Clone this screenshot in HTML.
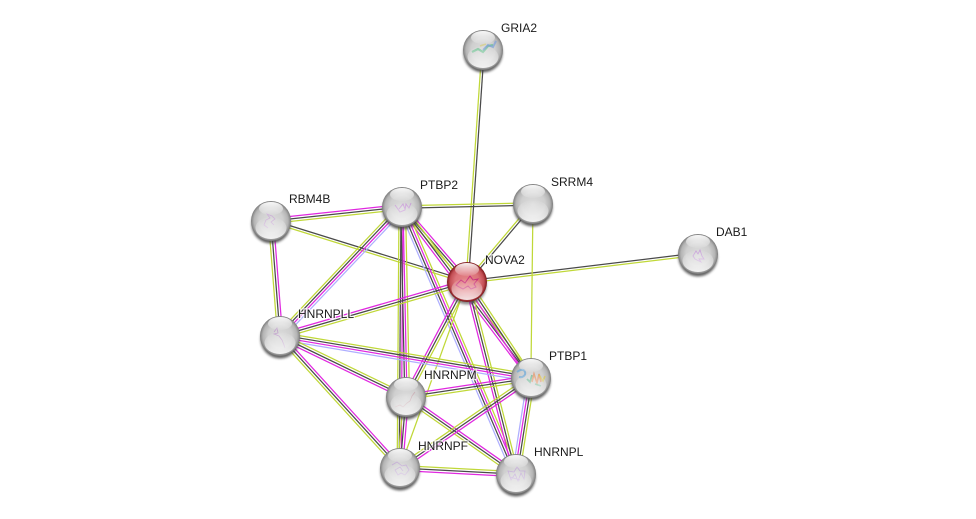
<!DOCTYPE html>
<html><head><meta charset="utf-8">
<style>
html,body{margin:0;padding:0;background:#fff;width:976px;height:519px;overflow:hidden}
svg{display:block}
path.m,path.k,path.g,path.b{fill:none;stroke-width:1.25}
.m{stroke:#e028e0}.k{stroke:#4a4a4a}.g{stroke:#c0d838}.b{stroke:#aeaeff}
.p{opacity:.7}
text{font-family:"Liberation Sans",sans-serif;font-size:12px;fill:#1a1a1a;paint-order:stroke;stroke:#fff;stroke-opacity:.75;stroke-width:2.5px}
</style></head><body>
<svg width="976" height="519" viewBox="0 0 976 519" xmlns="http://www.w3.org/2000/svg">
<defs>
<radialGradient id="s" cx="50%" cy="50%" r="50%">
<stop offset="0" stop-color="#dcdcdc"/><stop offset=".6" stop-color="#cfcfcf"/><stop offset=".85" stop-color="#b4b4b4"/><stop offset=".96" stop-color="#8c8c8c"/><stop offset="1" stop-color="#767676"/>
</radialGradient>
<radialGradient id="r" cx="50%" cy="50%" r="50%">
<stop offset="0" stop-color="#e58488"/><stop offset=".6" stop-color="#dc747a"/><stop offset=".85" stop-color="#c24e54"/><stop offset=".96" stop-color="#8f2428"/><stop offset="1" stop-color="#781a1e"/>
</radialGradient>
<linearGradient id="h" x1="0" y1="0" x2="0" y2="1">
<stop offset="0" stop-color="#fff" stop-opacity=".95"/><stop offset="1" stop-color="#fff" stop-opacity=".08"/>
</linearGradient>
<linearGradient id="l" x1="0" y1="0" x2="0" y2="1">
<stop offset="0" stop-color="#fff" stop-opacity="0"/><stop offset="1" stop-color="#fff" stop-opacity=".85"/>
</linearGradient>
<filter id="b" x="-30%" y="-30%" width="160%" height="160%"><feGaussianBlur stdDeviation="1.4"/></filter>
<g id="gl">
<ellipse cx="0" cy="-12.5" rx="12" ry="6.5" fill="url(#h)"/>
<ellipse cx="0" cy="7" rx="15.5" ry="11" fill="url(#l)"/>
</g>
<g id="sh"><circle cy="3" r="19.5" fill="#444" filter="url(#b)" opacity=".85"/></g>
</defs>

<!-- edges -->
<g transform="translate(483 50) rotate(93.9)"><path class="g" d="M0 1.2H233"/><path class="k" d="M0-1.2H233"/></g>
<g transform="translate(271 221) rotate(-6.1)"><path class="m" d="M0-2.5H132"/><path class="k" d="M0 0H132"/><path class="g" d="M0 2.5H132"/></g>
<g transform="translate(271 221) rotate(17.3)"><path class="k" d="M0-1.2H205"/><path class="g" d="M0 1.2H205"/></g>
<g transform="translate(271 221) rotate(85.5)"><path class="g" d="M0 2.5H115"/><path class="k" d="M0 0H115"/><path class="m" d="M0-2.5H115"/></g>
<g transform="translate(402 207) rotate(-1.3)"><path class="g" d="M0-1.2H131"/><path class="k" d="M0 1.2H131"/></g>
<g transform="translate(280 336) rotate(-46.6)"><path class="g" d="M0-3.6H177"/><path class="k" d="M0-1.2H177"/><path class="m" d="M0 1.2H177"/><path class="b" d="M0 3.6H177"/></g>
<g transform="translate(402 207) rotate(49.1)"><path class="m" d="M0-2.5H99"/><path class="k" d="M0 0H99"/><path class="g" d="M0 2.5H99"/></g>
<g transform="translate(402 207) rotate(53)"><path class="g" d="M0-2.5H214"/><path class="k" d="M0 0H214"/><path class="m" d="M0 2.5H214"/></g>
<g transform="translate(402 207) rotate(66.9)"><path class="g" d="M0-3.6H290"/><path class="m" d="M0-1.2H290"/><path class="k" d="M0 1.2H290"/><path class="b" d="M0 3.6H290"/></g>
<g transform="translate(402 207) rotate(90.4)"><path class="g" d="M0 3H261"/><path class="m" d="M0-1H261"/><path class="k" d="M0 1H261"/></g>
<g transform="translate(402 207) rotate(88.8)"><path class="g" d="M0-3.5H190"/><path class="m" d="M0-1H190"/><path class="k" d="M0 1.2H190"/></g>
<g transform="translate(280 336) rotate(-16.1)"><path class="m" d="M0-2.5H195"/><path class="k" d="M0 0H195"/><path class="g" d="M0 2.5H195"/></g>
<g transform="translate(467 282) rotate(56.3)"><path class="g" d="M0-2.5H115"/><path class="k" d="M0 0H115"/><path class="m" d="M0 2.5H115"/></g>
<g transform="translate(467 282) rotate(75.7)"><path class="g" d="M0-2.5H198"/><path class="k" d="M0 0H198"/><path class="m" d="M0 2.5H198"/></g>
<g transform="translate(406 397) rotate(-62.1)"><path class="m" d="M0-2.5H130"/><path class="k" d="M0 0H130"/><path class="g" d="M0 2.5H130"/></g>
<g transform="translate(400 468) rotate(-70.2)"><path class="g" d="M0 0H198"/></g>
<g transform="translate(467 282) rotate(-49.8)"><path class="g" d="M0-1.2H102"/><path class="k" d="M0 1.2H102"/></g>
<g transform="translate(467 282) rotate(-6.9)"><path class="k" d="M0-1.2H233"/><path class="g" d="M0 1.2H233"/></g>
<g transform="translate(533 204) rotate(90.7)"><path class="g" d="M0 0H174"/></g>
<g transform="translate(280 336) rotate(9.5)"><path class="g" d="M0-3.6H255"/><path class="k" d="M0-1.2H255"/><path class="m" d="M0 1.2H255"/><path class="b" d="M0 3.6H255"/></g>
<g transform="translate(280 336) rotate(25.8)"><path class="g" d="M0-2.5H140"/><path class="k" d="M0 0H140"/><path class="m" d="M0 2.5H140"/></g>
<g transform="translate(280 336) rotate(47.7)"><path class="m" d="M0-2.5H178"/><path class="k" d="M0 0H178"/><path class="g" d="M0 2.5H178"/></g>
<g transform="translate(406 397) rotate(35)"><path class="m" d="M0-2.5H134"/><path class="k" d="M0 0H134"/><path class="g" d="M0 2.5H134"/></g>
<g transform="translate(406 397) rotate(-8.6)"><path class="m" d="M0-2.5H126"/><path class="k" d="M0 0H126"/><path class="g" d="M0 2.5H126"/></g>
<g transform="translate(406 397) rotate(94.8)"><path class="g" d="M0 2.5H71"/><path class="m" d="M0-2.5H71"/><path class="k" d="M0 0H71"/></g>
<g transform="translate(400 468) rotate(-34.5)"><path class="g" d="M0-2.5H159"/><path class="k" d="M0 0H159"/><path class="m" d="M0 2.5H159"/></g>
<g transform="translate(400 468) rotate(3)"><path class="g" d="M0-2.5H116"/><path class="k" d="M0 0H116"/><path class="m" d="M0 2.5H116"/></g>
<g transform="translate(531 378) rotate(98.9)"><path class="b" d="M0 3.6H97"/><path class="m" d="M0 1.2H97"/><path class="k" d="M0-1.2H97"/><path class="g" d="M0-3.6H97"/></g>

<!-- nodes -->
<g transform="translate(483 50)"><use href="#sh"/><circle r="20" fill="url(#s)"/>
<path class="p" d="M-11 2l6-3 5 3 5-6 5-1" fill="none" stroke="#63c08a" stroke-width="2.2"/><path class="p" d="M0 0l5-5 5 2 3-6" fill="none" stroke="#7d9fd8" stroke-width="2"/><path class="p" d="M-3-4l6-2" stroke="#d8d080" stroke-width="1.6"/><use href="#gl"/></g>
<g transform="translate(271 221)"><use href="#sh"/><circle r="20" fill="url(#s)"/>
<path class="p" d="M-3 7l-4-3 2-5 4-2-3-4 5 2 3 3-4 3 3 3" fill="none" stroke="#c9a0d8" stroke-width=".8"/><use href="#gl"/></g>
<g transform="translate(402 207)"><use href="#sh"/><circle r="20" fill="url(#s)"/>
<path class="p" d="M-7-2l5 7 5-2 1-6 3 4 2-5M-3 2l4-5 2 5" fill="none" stroke="#c58ad8" stroke-width="1"/><use href="#gl"/></g>
<g transform="translate(533 204)"><use href="#sh"/><circle r="20" fill="url(#s)"/><use href="#gl"/></g>
<g transform="translate(698 254)"><use href="#sh"/><circle r="20" fill="url(#s)"/>
<path class="p" d="M-5 2l3-5 2 3 2-4 2 6 2 3-5 0 2 3-6-3z" fill="none" stroke="#c08ad8" stroke-width=".9"/><use href="#gl"/></g>
<g transform="translate(467 282)"><circle cy="3" r="19.5" fill="#555" filter="url(#b)" opacity=".7"/><circle r="20" fill="url(#r)"/>
<path d="M-11 3l5-5 4 3 5-7 3 4 5-1-4 5 2 3-5 2-3-3-5 3-4-2z" fill="none" stroke="#c8307a" stroke-width="1"/><use href="#gl"/></g>
<g transform="translate(280 336)"><use href="#sh"/><circle r="20" fill="url(#s)"/>
<path class="p" d="M-6-4l3-4 1 5-4 1 5 2 3 4 2 5 1 3" fill="none" stroke="#b88ac8" stroke-width=".8"/><use href="#gl"/></g>
<g transform="translate(531 378)"><use href="#sh"/><circle r="20" fill="url(#s)"/>
<path class="p" d="M-14-6c4-3 7-3 8 0s-2 6-6 5" fill="none" stroke="#6aa8d8" stroke-width="2"/><path class="p" d="M-4 1l3 3 2-7" fill="none" stroke="#60b890" stroke-width="1.8"/><path class="p" d="M1 4l2-8 3 9 2-9 2 8" fill="none" stroke="#e89060" stroke-width="1.6"/><path class="p" d="M8-3l4 6 2-5" fill="none" stroke="#d8c850" stroke-width="1.5"/><path class="p" d="M4 6l6 2" stroke="#60b890" stroke-width="1.5"/><use href="#gl"/></g>
<g transform="translate(406 397)"><use href="#sh"/><circle r="20" fill="url(#s)"/>
<path class="p" d="M-11 10l5-2 3 2 4-4 3-2 2-5 3-4" fill="none" stroke="#c8a0a8" stroke-width=".8"/><use href="#gl"/></g>
<g transform="translate(400 468)"><use href="#sh"/><circle r="20" fill="url(#s)"/>
<path class="p" d="M-8-3l5-3 5 4 4-1 3 5-4 5-4-2-3 2-3-5 5-3 3 4" fill="none" stroke="#c0a0d8" stroke-width=".8"/><use href="#gl"/></g>
<g transform="translate(516 474)"><use href="#sh"/><circle r="20" fill="url(#s)"/>
<path class="p" d="M-8-3l3 9 4-6 3 7 3-8 3 6 1-8-5 0-3-4-3 5zM-6 3l10 3" fill="none" stroke="#c0a0dc" stroke-width=".8"/><use href="#gl"/></g>

<!-- labels -->
<text x="501" y="32">GRIA2</text>
<text x="289" y="203">RBM4B</text>
<text x="420" y="189">PTBP2</text>
<text x="551" y="186">SRRM4</text>
<text x="716" y="236">DAB1</text>
<text x="485" y="264">NOVA2</text>
<text x="298" y="318">HNRNPLL</text>
<text x="549" y="360">PTBP1</text>
<text x="424" y="379">HNRNPM</text>
<text x="418" y="450">HNRNPF</text>
<text x="534" y="456">HNRNPL</text>
</svg>
</body></html>
